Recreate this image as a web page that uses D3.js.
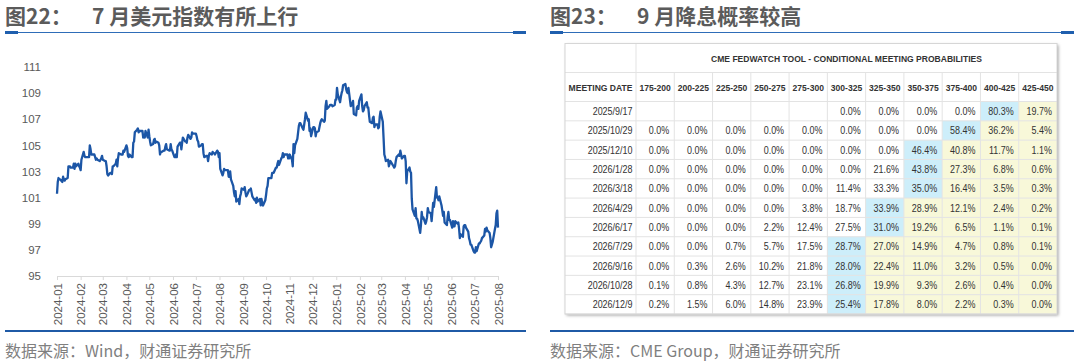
<!DOCTYPE html>
<html><head><meta charset="utf-8">
<script src="https://cdn.jsdelivr.net/npm/d3@7"></script>
<style>
html,body{margin:0;padding:0;background:#fff;}
svg{display:block;}
</style></head>
<body>
<svg id="c" width="1080" height="364"></svg>
<script>
// ---------------- data ----------------
const titleLeft = ["图22：", "7 月美元指数有所上行"];
const titleRight = ["图23：", "9 月降息概率较高"];
const sourceLeft = "数据来源：Wind，财通证券研究所";
const sourceRight = "数据来源：CME Group，财通证券研究所";

const yTicks = [95, 97, 99, 101, 103, 105, 107, 109, 111];
const monthTicks = ["2024-01","2024-02","2024-03","2024-04","2024-05","2024-06","2024-07","2024-08","2024-09","2024-10","2024-11","2024-12",
  "2025-01","2025-02","2025-03","2025-04","2025-05","2025-06","2025-07","2025-08"];

// US dollar index, business-day closes, one sub-array per month
const dxy2024 = [
  [101.3,102.2,102.5,102.4,102.4,102.2,102.6,102.4,102.3,102.4,102.5,103.4,103.4,103.4,103.3,103.3,103.6,103.2,103.6,103.4,103.6,103.4,103.3],
  [103.1,103.9,104.5,104.2,104.1,104.1,104.1,104.1,105.0,104.7,104.3,104.3,104.3,104.1,103.9,104.0,103.9,103.8,103.9,104.0,104.2],
  [103.9,103.8,103.8,103.4,102.8,102.7,102.9,102.9,102.8,103.4,103.4,103.6,103.9,103.4,104.0,104.4,104.3,104.3,104.3,104.6,104.5],
  [105.0,104.8,104.2,104.1,104.3,104.1,104.1,105.2,105.3,106.0,106.2,106.3,106.0,106.1,106.1,106.1,105.6,105.8,105.6,106.1,105.6,106.2],
  [105.7,105.3,105.0,105.1,105.4,105.5,105.2,105.3,105.2,105.0,104.3,104.5,104.5,104.6,104.6,104.9,105.1,104.7,104.6,104.6,105.1,104.7,104.6],
  [104.1,104.1,104.3,104.1,104.9,105.2,105.2,104.7,105.2,105.6,105.3,105.3,105.2,105.6,105.8,105.5,105.6,106.0,105.9,105.9],
  [105.9,105.7,105.4,105.3,104.9,105.0,105.1,105.1,104.4,104.1,104.2,104.2,103.8,104.2,104.4,104.3,104.5,104.4,104.4,104.3,104.6,104.5,104.1],
  [104.4,103.2,102.7,102.9,103.2,103.1,103.1,103.1,102.6,102.6,103.0,102.4,101.9,101.4,101.1,101.5,100.7,100.9,100.5,101.1,101.3,101.7],
  [101.6,101.8,101.4,101.1,101.2,101.6,101.6,101.7,101.4,101.1,100.8,100.9,100.6,101.0,100.7,100.9,100.4,100.9,100.6,100.4,100.8],
  [101.2,101.7,101.9,102.5,102.5,102.5,102.9,102.9,102.9,103.3,103.3,103.6,103.8,103.5,104.0,104.1,104.4,104.1,104.3,104.3,104.3,104.0,104.0],
  [104.3,103.9,103.4,105.1,104.4,105.0,105.5,106.0,106.5,106.7,106.7,106.3,106.2,106.6,107.0,107.5,106.9,107.0,106.1,106.3,105.7],
  [106.4,106.4,106.3,105.7,106.0,106.1,106.4,106.7,106.9,107.0,106.8,106.9,108.0,108.4,107.8,108.0,108.1,108.1,108.1,108.0,108.1,108.5]
];
const dxy2025 = [
  [108.5,109.4,108.9,108.3,108.7,109.0,109.2,109.6,109.7,109.3,109.1,109.0,109.4,108.0,108.1,108.2,108.4,107.4,107.3,107.9,108.0,107.8,108.4],
  [108.9,108.0,107.6,107.7,108.0,108.3,107.9,107.9,107.3,106.8,106.7,107.1,107.2,106.4,106.6,106.6,106.3,106.4,107.2,107.6],
  [106.8,105.6,104.3,104.1,103.8,103.9,103.4,103.6,103.8,103.7,103.4,103.3,103.4,103.8,104.1,104.3,104.2,104.6,104.3,104.0,104.2],
  [104.2,103.8,102.1,103.0,103.3,103.0,102.9,100.9,100.1,99.6,100.2,99.4,99.4,99.2,98.3,98.9,99.9,99.4,99.5,99.0,99.2,99.5],
  [100.2,99.9,99.8,99.2,99.9,100.6,100.3,101.8,101.0,101.0,100.8,101.1,100.4,100.0,99.6,99.9,99.1,98.9,99.5,99.9,99.3,99.3],
  [98.7,99.2,98.8,98.8,99.2,99.0,99.1,98.6,97.9,98.2,98.0,98.8,98.9,98.9,98.7,98.4,97.9,97.7,97.4,97.4,96.9],
  [96.8,96.8,97.2,96.9,97.5,97.5,97.6,97.7,97.9,98.1,98.6,98.4,98.7,98.5,98.3,97.9,97.2,97.4,97.6,98.6,98.9,99.8,100.0],
  [98.7]
];

// CME FedWatch table
const tableTitle = "CME FEDWATCH TOOL - CONDITIONAL MEETING PROBABILITIES";
const firstHeader = "MEETING DATE";
const rateBuckets = ["175-200","200-225","225-250","250-275","275-300","300-325","325-350","350-375","375-400","400-425","425-450"];
const meetingDates = ["2025/9/17","2025/10/29","2025/12/10","2026/1/28","2026/3/18","2026/4/29","2026/6/17","2026/7/29","2026/9/16","2026/10/28","2026/12/9"];
const probs = [
  [null,null,null,null,null,0.0,0.0,0.0,0.0,80.3,19.7],
  [0.0,0.0,0.0,0.0,0.0,0.0,0.0,0.0,58.4,36.2,5.4],
  [0.0,0.0,0.0,0.0,0.0,0.0,0.0,46.4,40.8,11.7,1.1],
  [0.0,0.0,0.0,0.0,0.0,0.0,21.6,43.8,27.3,6.8,0.6],
  [0.0,0.0,0.0,0.0,0.0,11.4,33.3,35.0,16.4,3.5,0.3],
  [0.0,0.0,0.0,0.0,3.8,18.7,33.9,28.9,12.1,2.4,0.2],
  [0.0,0.0,0.0,2.2,12.4,27.5,31.0,19.2,6.5,1.1,0.1],
  [0.0,0.0,0.7,5.7,17.5,28.7,27.0,14.9,4.7,0.8,0.1],
  [0.0,0.3,2.6,10.2,21.8,28.0,22.4,11.0,3.2,0.5,0.0],
  [0.1,0.8,4.3,12.7,23.1,26.8,19.9,9.3,2.6,0.4,0.0],
  [0.2,1.5,6.0,14.8,23.9,25.4,17.8,8.0,2.2,0.3,0.0]
];

// ---------------- drawing ----------------
const svg = d3.select("#c");
const defs = svg.append("defs");
const f = defs.append("filter").attr("id","sh").attr("x","-5%").attr("y","-5%").attr("width","112%").attr("height","112%");
f.append("feDropShadow").attr("dx",1.5).attr("dy",1.5).attr("stdDeviation",1.4)
  .attr("flood-color","#000").attr("flood-opacity",0.35);

const CJK = "'Noto Sans CJK SC','Noto Sans',sans-serif";
const LAT = "'Liberation Sans',Arial,sans-serif";

function frame(x0, x1, title, source) {
  const g = svg.append("g");
  g.append("text").attr("x", x0).attr("y", 23.5).attr("font-family", CJK).attr("font-weight", 700)
    .attr("font-size", 21).attr("fill", "#5b5b5b").text(title[0]);
  g.append("text").attr("x", x0 + 87).attr("y", 23.5).attr("font-family", CJK).attr("font-weight", 700)
    .attr("font-size", 21).attr("fill", "#5b5b5b").text(title[1]);
  g.append("line").attr("x1", x0).attr("x2", x1).attr("y1", 32.5).attr("y2", 32.5)
    .attr("stroke", "#2e6db8").attr("stroke-width", 1);
  g.append("rect").attr("x", x0).attr("y", 31).attr("width", 13).attr("height", 3).attr("fill", "#1f5fae");
  g.append("rect").attr("x", x1 - 13).attr("y", 31).attr("width", 13).attr("height", 3).attr("fill", "#1f5fae");
  g.append("line").attr("x1", x0).attr("x2", x1).attr("y1", 331).attr("y2", 331)
    .attr("stroke", "#1f5aa6").attr("stroke-width", 2);
  g.append("text").attr("x", x0).attr("y", 357).attr("font-family", CJK).attr("font-size", 16)
    .attr("fill", "#7f7f7f").text(source);
}
frame(5, 526, titleLeft, sourceLeft);
frame(550, 1074, titleRight, sourceRight);

// ---- line chart ----
const parseM = d3.timeParse("%Y-%m");
const x = d3.scaleTime().domain([parseM("2024-01"), parseM("2025-08")]).range([57, 498]);
const y = d3.scaleLinear().domain([95, 111]).range([276, 67]);

function monthSeries(year, months) {
  const out = [];
  months.forEach((vals, m) => {
    const start = new Date(year, m, 1), end = new Date(year, m + 1, 1);
    let days = d3.timeDays(start, end).filter(d => d.getDay() !== 0 && d.getDay() !== 6);
    if (days.length !== vals.length) {
      days = vals.map((v, k) => new Date(+start + k * (end - start) / vals.length));
    }
    vals.forEach((v, k) => out.push({ date: days[k], v }));
  });
  return out;
}
const series = monthSeries(2024, dxy2024).concat(monthSeries(2025, dxy2025));
series[0].date = parseM("2024-01");

const xAxis = d3.axisBottom(x).tickValues(monthTicks.map(parseM))
  .tickFormat(d3.timeFormat("%Y-%m")).tickSizeInner(4).tickSizeOuter(0);
const gx = svg.append("g").attr("transform", "translate(0,276)").call(xAxis);
gx.select(".domain").attr("stroke", "#d9d9d9");
gx.selectAll(".tick line").attr("stroke", "#d9d9d9");
gx.selectAll(".tick text").attr("transform", "rotate(-90)").attr("text-anchor", "end")
  .attr("x", -7).attr("y", 0).attr("dy", "0.36em")
  .attr("font-family", LAT).attr("font-size", 11.5).attr("fill", "#595959");

const yAxis = d3.axisLeft(y).tickValues(yTicks).tickSize(0).tickPadding(3);
const gy = svg.append("g").attr("transform", "translate(44,0)").call(yAxis);
gy.select(".domain").remove();
gy.selectAll(".tick text").attr("font-family", LAT).attr("font-size", 11.5).attr("fill", "#595959");

svg.append("path").datum(series)
  .attr("d", d3.line().x(d => x(d.date)).y(d => y(d.v)))
  .attr("fill", "none").attr("stroke", "#1c56a6").attr("stroke-width", 2.3)
  .attr("stroke-linejoin", "round");

// ---- table ----
const T = { x0: 565, y0: 43.5, c0: 71, cw: (1057 - 636) / 11, h1: 29, h2: 29, rh: (314 - 101.5) / 11 };
const tg = svg.append("g");
const colX = i => T.x0 + T.c0 + i * T.cw;
const rowY = r => T.y0 + T.h1 + T.h2 + r * T.rh;
const W = T.c0 + 11 * T.cw, H = T.h1 + T.h2 + 11 * T.rh;
tg.append("rect").attr("x", T.x0).attr("y", T.y0).attr("width", W).attr("height", H)
  .attr("fill", "#fff").attr("filter", "url(#sh)");

// cell backgrounds
const cells = [];
probs.forEach((row, r) => {
  const vals = row.map(v => v == null ? -1 : v);
  const mx = d3.maxIndex(vals);
  row.forEach((v, c) => cells.push({ r, c, v, fill: c === mx ? "#cdeefa" : (c > mx ? "#f8f8d9" : "#fff") }));
});
tg.selectAll("rect.cell").data(cells).join("rect").attr("class", "cell")
  .attr("x", d => colX(d.c)).attr("y", d => rowY(d.r)).attr("width", T.cw).attr("height", T.rh)
  .attr("fill", d => d.fill);

// grid lines
const gridC = "#e3e3e3";
for (let r = 0; r <= 11; r++) {
  tg.append("line").attr("x1", T.x0).attr("x2", T.x0 + W).attr("y1", rowY(r)).attr("y2", rowY(r))
    .attr("stroke", gridC).attr("stroke-width", 1);
}
tg.append("line").attr("x1", T.x0).attr("x2", T.x0 + W).attr("y1", T.y0 + T.h1).attr("y2", T.y0 + T.h1)
  .attr("stroke", gridC);
tg.append("line").attr("x1", T.x0 + T.c0).attr("x2", T.x0 + T.c0).attr("y1", T.y0).attr("y2", T.y0 + H)
  .attr("stroke", gridC);
for (let c = 1; c < 11; c++) {
  tg.append("line").attr("x1", colX(c)).attr("x2", colX(c)).attr("y1", T.y0 + T.h1).attr("y2", T.y0 + H)
    .attr("stroke", gridC);
}
tg.append("rect").attr("x", T.x0).attr("y", T.y0).attr("width", W).attr("height", H)
  .attr("fill", "none").attr("stroke", "#d6d6d6");

function txt(xp, yp, s, opt) {
  tg.append("text").attr("transform", `translate(${xp},${yp}) scale(${opt.sx},1)`)
    .attr("text-anchor", opt.anchor).attr("font-family", LAT).attr("font-size", opt.size)
    .attr("font-weight", opt.bold ? 700 : 400).attr("fill", "#333").text(s);
}
const HB = { sx: 0.9, size: 9.5, bold: true, anchor: "middle" };
txt(T.x0 + T.c0 + 11 * T.cw / 2, T.y0 + T.h1 / 2 + 3.5, tableTitle, HB);
txt(T.x0 + T.c0 / 2, T.y0 + T.h1 + T.h2 / 2 + 3.5, firstHeader, HB);
rateBuckets.forEach((b, i) => txt(colX(i) + T.cw / 2, T.y0 + T.h1 + T.h2 / 2 + 3.5, b, HB));
const DT = { sx: 0.78, size: 11.5, bold: false, anchor: "end" };
meetingDates.forEach((d, r) => txt(T.x0 + T.c0 - 3.5, rowY(r) + T.rh / 2 + 4, d, DT));
cells.forEach(d => {
  if (d.v != null) txt(colX(d.c) + T.cw - 5, rowY(d.r) + T.rh / 2 + 4, d.v.toFixed(1) + "%", DT);
});
</script>
</body></html>
